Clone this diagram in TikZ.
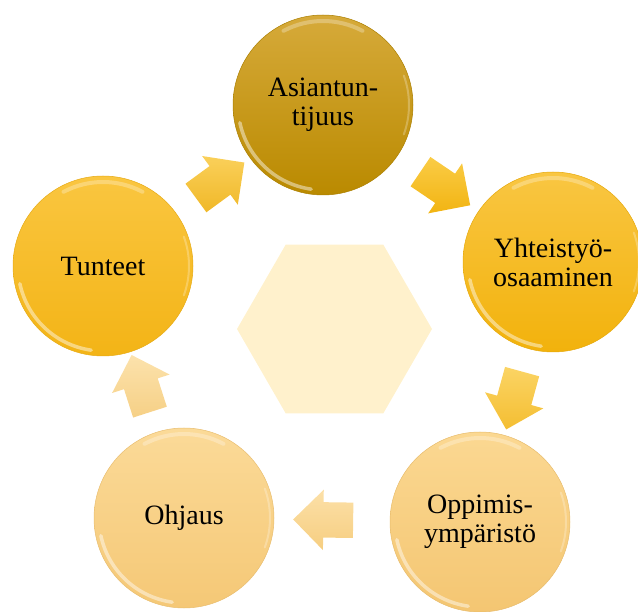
\documentclass[tikz,border=0pt]{standalone}
\usepackage{fontspec}
\setmainfont{Liberation Serif}
\usetikzlibrary{shapes.geometric,shapes.arrows,calc}

\definecolor{asiTop}{RGB}{214,170,58}
\definecolor{asiBot}{RGB}{186,138,0}
\definecolor{yhtTop}{RGB}{249,198,66}
\definecolor{yhtBot}{RGB}{242,178,12}
\definecolor{tunTop}{RGB}{250,198,64}
\definecolor{tunBot}{RGB}{243,180,22}
\definecolor{ohjTop}{RGB}{251,218,152}
\definecolor{ohjBot}{RGB}{245,200,118}
\definecolor{oppTop}{RGB}{251,216,146}
\definecolor{oppBot}{RGB}{244,198,114}
\definecolor{hexFill}{RGB}{255,241,204}
\definecolor{arOneA}{RGB}{250,208,90}
\definecolor{arOneB}{RGB}{240,184,40}
\definecolor{arTwoA}{RGB}{250,204,70}
\definecolor{arTwoB}{RGB}{242,180,18}
\definecolor{arThrA}{RGB}{251,212,100}
\definecolor{arThrB}{RGB}{244,190,50}
\definecolor{arFouA}{RGB}{252,224,168}
\definecolor{arFouB}{RGB}{246,206,128}
\definecolor{arFivA}{RGB}{252,226,172}
\definecolor{arFivB}{RGB}{246,208,134}

\newcommand{\glossring}[1]{%
  \begin{scope}[shift={(#1.center)}, x=1pt, y=1pt]
    \draw[white, opacity=0.45, line width=3.5pt, line cap=round]
      (192:85) arc[start angle=192, end angle=262, radius=85];
    \draw[white, opacity=0.28, line width=4pt, line cap=round]
      (62:84) arc[start angle=62, end angle=118, radius=84];
    \draw[white, opacity=0.25, line width=2pt, line cap=round]
      (-20:86) arc[start angle=-20, end angle=20, radius=86];
  \end{scope}}

\begin{document}
\begin{tikzpicture}[x=1pt, y=-1pt,
  ball/.style={circle, minimum size=180pt, inner sep=0pt, align=center,
    font=\fontsize{28}{29}\selectfont, text=black},
  cyclearrow/.style={single arrow, minimum height=60pt, minimum width=60pt,
    inner xsep=0pt, inner ysep=17.5pt, single arrow head extend=12.5pt,
    draw=none}]
\useasboundingbox (0,0) rectangle (638,612);

% centre hexagon
\node[regular polygon, regular polygon sides=6, minimum size=195pt,
      inner sep=0pt, fill=hexFill] (hex) at (334.5,329) {};

% circles
\node[ball, top color=asiTop, bottom color=asiBot, draw=asiBot!92!black, line width=0.5pt]
  (asi) at (323,105) {Asiantun-\\tijuus};
\node[ball, top color=yhtTop, bottom color=yhtBot, draw=yhtBot!95!black, line width=0.5pt]
  (yht) at (553,262) {Yhteistyö-\\osaaminen};
\node[ball, top color=oppTop, bottom color=oppBot, draw=oppBot!95!black, line width=0.5pt]
  (opp) at (480,522) {Oppimis-\\ympäristö};
\node[ball, top color=ohjTop, bottom color=ohjBot, draw=ohjBot!95!black, line width=0.5pt]
  (ohj) at (184,518) {Ohjaus};
\node[ball, top color=tunTop, bottom color=tunBot, draw=tunBot!95!black, line width=0.5pt]
  (tun) at (103,266) {Tunteet};

\glossring{asi}
\glossring{yht}
\glossring{opp}
\glossring{ohj}
\glossring{tun}

% arrows between circles
\node[cyclearrow, rotate=36.2, top color=arOneA, bottom color=arOneB]
  (a1) at ($(tun)!0.5!(asi)$) {};
\node[cyclearrow, rotate=-34.1, top color=arTwoA, bottom color=arTwoB]
  (a2) at ($(asi)!0.5!(yht)$) {};
\node[cyclearrow, rotate=-105.4, top color=arThrA, bottom color=arThrB]
  (a3) at ($(yht)!0.5!(opp)$) {};
\node[cyclearrow, rotate=179.2, top color=arFouA, bottom color=arFouB]
  (a4) at ($(opp)!0.5!(ohj)$) {};
\node[cyclearrow, rotate=107.8, top color=arFivA, bottom color=arFivB]
  (a5) at ($(ohj)!0.5!(tun)$) {};
\end{tikzpicture}
\end{document}
